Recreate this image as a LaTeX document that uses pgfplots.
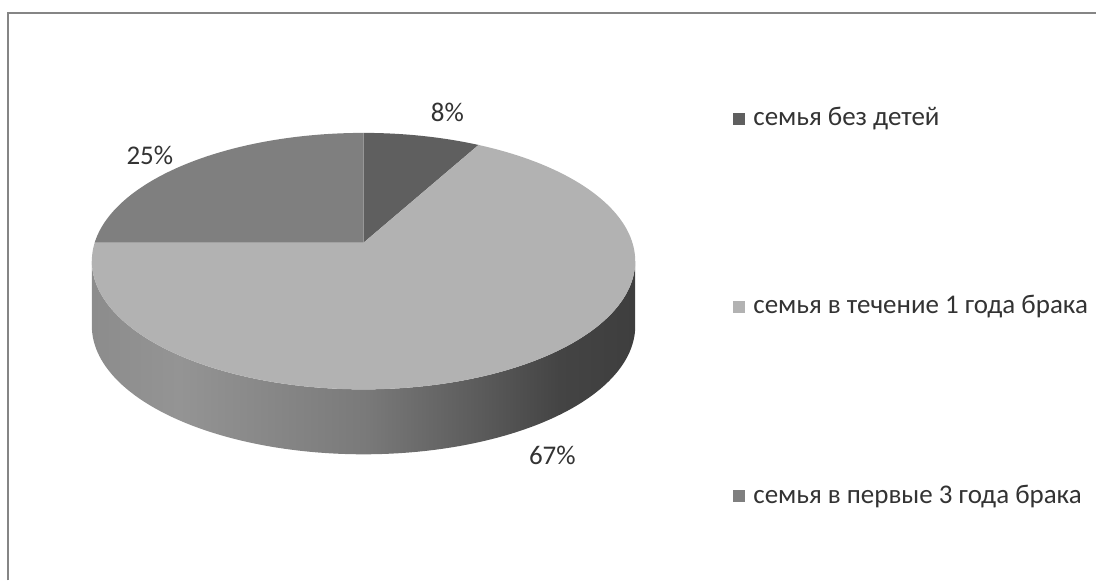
\documentclass[border=0pt]{standalone}
\usepackage{pgfplots}
\pgfplotsset{compat=1.18}
\usepackage{pgfplotstable}
\usepackage{fontspec}
\setmainfont{Carlito}
\definecolor{cA}{HTML}{5F5F5F}
\definecolor{cB}{HTML}{B2B2B2}
\definecolor{cC}{HTML}{7F7F7F}
\definecolor{s1}{HTML}{8C8C8C}
\definecolor{s2}{HTML}{949494}
\definecolor{s3}{HTML}{7A7A7A}
\definecolor{s4}{HTML}{5A5A5A}
\definecolor{s5}{HTML}{444444}
\definecolor{s6}{HTML}{3E3E3E}
\definecolor{txt}{HTML}{333333}
\pgfdeclarehorizontalshading{pieside}{100bp}{color(0bp)=(s1); color(25bp)=(s1); color(33bp)=(s2); color(50bp)=(s3); color(61bp)=(s4); color(68bp)=(s5); color(75bp)=(s6); color(100bp)=(s6)}

\pgfplotstableread{
share
8
67
25
}\piedata
\pgfplotstablegetelem{0}{share}\of\piedata \let\va\pgfplotsretval
\pgfplotstablegetelem{1}{share}\of\piedata \let\vb\pgfplotsretval
\pgfplotstablegetelem{2}{share}\of\piedata \let\vc\pgfplotsretval
\pgfmathsetmacro\aB{3.6*\va}
\pgfmathsetmacro\aC{3.6*(\va+\vb)}

\begin{document}
\begin{tikzpicture}
\begin{axis}[
  hide axis, scale only axis,
  x=0.5bp, y=0.5bp, y dir=reverse,
  xmin=0, xmax=1097, ymin=0, ymax=581,
  clip=false,
  declare function={
    px(\t)=364+1871*sin(\t)/(6.95+cos(\t));
    py(\t)=243-874*cos(\t)/(6.95+cos(\t));
    sa(\t)=ifthenelse(\t<=261.7,\t,523.4-\t);
    sd(\t)=ifthenelse(\t<=261.7,0,65);
  },
]
\path (0,0) rectangle (1097,581);
% side of the pie
\addplot[draw=none, mark=none, shade, shading=pieside, domain=98.3:425.1, samples=201, variable=\t]
  ({px(sa(t))}, {py(sa(t))+sd(t)}) -- cycle;
% top slices
\addplot[fill=cA, draw=none, mark=none, domain=0:\aB, samples=40, variable=\t]
  ({px(t)}, {py(t)}) -- (364,243) -- cycle;
\addplot[fill=cB, draw=none, mark=none, domain=\aB:\aC, samples=200, variable=\t]
  ({px(t)}, {py(t)}) -- (364,243) -- cycle;
\addplot[fill=cC, draw=none, mark=none, domain=\aC:360, samples=80, variable=\t]
  ({px(t)}, {py(t)}) -- (364,243) -- cycle;
% frame
\draw[color=black!48, line width=1.4bp] (8,581) -- (8,13) -- (1097,13);
% data labels
\node[text=txt, font=\fontsize{13.5bp}{16bp}\selectfont] at (448,113) {\va\%};
\node[text=txt, font=\fontsize{13.5bp}{16bp}\selectfont] at (150,156) {\vc\%};
\node[text=txt, font=\fontsize{13.5bp}{16bp}\selectfont] at (553,456) {\vb\%};
% legend
\fill[cA] (734,113) rectangle (746,125);
\fill[cB] (734,301) rectangle (746,313);
\fill[cC] (734,491) rectangle (746,503);
\node[text=txt, anchor=west, inner sep=0pt, font=\fontsize{13.5bp}{16bp}\selectfont] at (754,119) {семья без детей};
\node[text=txt, anchor=west, inner sep=0pt, font=\fontsize{13.5bp}{16bp}\selectfont] at (754,307) {семья в течение 1 года брака};
\node[text=txt, anchor=west, inner sep=0pt, font=\fontsize{13.5bp}{16bp}\selectfont] at (754,497) {семья в первые 3 года брака};
\end{axis}
\end{tikzpicture}
\end{document}
